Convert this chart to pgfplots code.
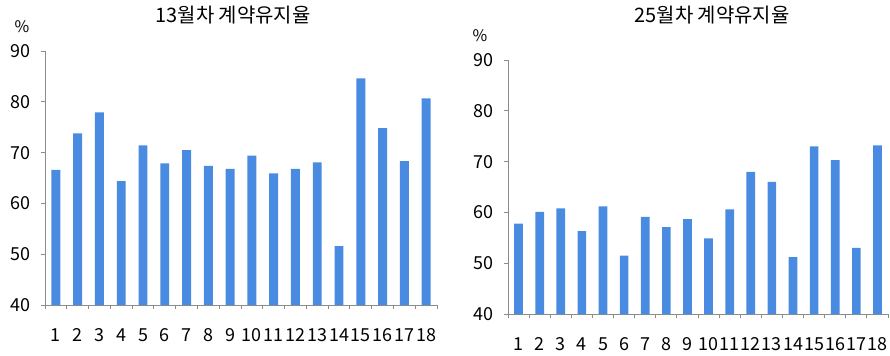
\documentclass[border=0pt]{standalone}
\usepackage{pgfplots}
\pgfplotsset{compat=1.18}
\usepackage{fontspec}
\setmainfont{Noto Sans CJK KR}
\definecolor{barblue}{HTML}{4A8BE2}
\definecolor{axgray}{HTML}{8C8C8C}
\pgfplotsset{
  mystyle/.style={
    scale only axis,
    ybar, bar width=0.41,
    xmin=0.5, xmax=18.5,
    ymin=40, ymax=90,
    ytick={40,50,...,90},
    xtick={1,...,18},
    minor xtick={0.5,1.5,...,18.5},
    axis x line*=bottom, axis y line*=left,
    axis line style={axgray, line width=0.9pt, -},
    major x tick style={draw=none},
    minor x tick style={axgray, line width=0.9pt},
    major y tick style={axgray, line width=0.9pt},
    tick align=outside,
    major tick length=4bp, minor tick length=4bp,
    xticklabel style={font=\fontsize{18}{19}\selectfont, yshift=-16bp, inner xsep=0pt},
    yticklabel style={font=\fontsize{18}{19}\selectfont, xshift=-7bp},
    /pgf/number format/assume math mode=true,
  }
}
\begin{document}
\begin{tikzpicture}[x=1bp,y=1bp]
\path[use as bounding box] (0,0) rectangle (890,-355);
\begin{axis}[mystyle, at={(45bp,-305bp)}, anchor=south west, width=392bp, height=254bp]
\addplot[fill=barblue, draw=none] coordinates {(1,66.6) (2,73.8) (3,77.9) (4,64.4) (5,71.4) (6,67.9) (7,70.5) (8,67.4) (9,66.8) (10,69.4) (11,65.9) (12,66.8) (13,68.1) (14,51.6) (15,84.6) (16,74.8) (17,68.3) (18,80.7)};
\end{axis}
\node[font=\fontsize{20}{21}\selectfont] at (233,-15) {13월차 계약유지율};
\node[font=\fontsize{16}{17}\selectfont] at (22,-27) {\%};
\begin{axis}[mystyle, at={(508bp,-314bp)}, anchor=south west, width=380bp, height=254bp]
\addplot[fill=barblue, draw=none] coordinates {(1,57.8) (2,60.1) (3,60.8) (4,56.3) (5,61.2) (6,51.5) (7,59.1) (8,57.1) (9,58.7) (10,54.9) (11,60.6) (12,68.0) (13,66.0) (14,51.2) (15,73.0) (16,70.3) (17,53.0) (18,73.2)};
\end{axis}
\node[font=\fontsize{20}{21}\selectfont] at (712,-15) {25월차 계약유지율};
\node[font=\fontsize{16}{17}\selectfont] at (480,-36) {\%};
\end{tikzpicture}
\end{document}
